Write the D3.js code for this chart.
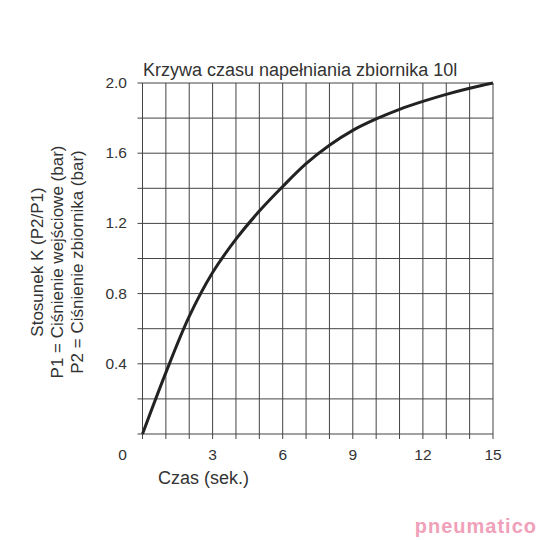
<!DOCTYPE html>
<html><head><meta charset="utf-8">
<script src="https://cdn.jsdelivr.net/npm/d3@7"></script>
<style>body{margin:0;background:#fff}text{font-family:"Liberation Sans",Arial,sans-serif;fill:#333}</style>
</head><body><svg width="540" height="540"></svg>
<script>
// data
var times = [0, 1, 2, 3, 4, 5, 6, 7, 8, 9, 10, 11, 12, 13, 14, 15];
var ratio = [0, 0.35, 0.67, 0.92, 1.11, 1.27, 1.41, 1.54, 1.645, 1.73, 1.795, 1.85, 1.895, 1.935, 1.97, 2.0];
var xTicks = [0, 3, 6, 9, 12, 15];
var yTicks = [0.4, 0.8, 1.2, 1.6, 2.0];
var yAxisLines = ["Stosunek K (P2/P1)", "P1 = Ciśnienie wejściowe (bar)", "P2 = Ciśnienie zbiornika (bar)"];

var svg = d3.select("svg");
var x = d3.scaleLinear().domain([0, 15]).range([142.5, 493]);
var y = d3.scaleLinear().domain([0, 2]).range([434, 83]);

// grid
svg.selectAll(".vg").data(d3.range(0, 16)).enter().append("line")
    .attr("x1", d => x(d)).attr("x2", d => x(d))
    .attr("y1", y(2)).attr("y2", y(0) + 5)
    .attr("stroke", "#444").attr("stroke-width", 1);
svg.selectAll(".hg").data(d3.range(0, 11).map(i => i * 0.2)).enter().append("line")
    .attr("x1", x(0) - 5).attr("x2", x(15))
    .attr("y1", d => y(d)).attr("y2", d => y(d))
    .attr("stroke", "#444").attr("stroke-width", 1);

// tick labels
svg.selectAll(".xt").data(xTicks).enter().append("text")
    .attr("x", d => d == 0 ? x(d) - 20 : x(d)).attr("y", 460)
    .attr("text-anchor", "middle").attr("font-size", 15.5).text(d => d);
svg.selectAll(".yt").data(yTicks).enter().append("text")
    .attr("x", 127).attr("y", d => y(d) + 5)
    .attr("text-anchor", "end").attr("font-size", 15.5).text(d => d.toFixed(1));

svg.append("path").datum(times)
    .attr("d", d3.line().x(d => x(d)).y((d, i) => y(ratio[i])).curve(d3.curveCatmullRom))
    .attr("fill", "none").attr("stroke", "#222").attr("stroke-width", 3);

svg.append("text").attr("x", 143).attr("y", 76).attr("font-size", 18)
    .text("Krzywa czasu napełniania zbiornika 10l");
svg.append("text").attr("x", 158).attr("y", 484).attr("font-size", 18).text("Czas (sek.)");

yAxisLines.forEach(function (t, i) {
    svg.append("text").attr("transform", "translate(" + (43 + i * 20) + ",262) rotate(-90)")
        .attr("text-anchor", "middle").attr("font-size", 17).text(t);
});

svg.append("text").attr("x", 537).attr("y", 533).attr("text-anchor", "end")
    .attr("font-size", 20).attr("font-weight", "bold").style("fill", "#f0a0b8")
    .style("letter-spacing", "1px").text("pneumatico");
</script></body></html>
